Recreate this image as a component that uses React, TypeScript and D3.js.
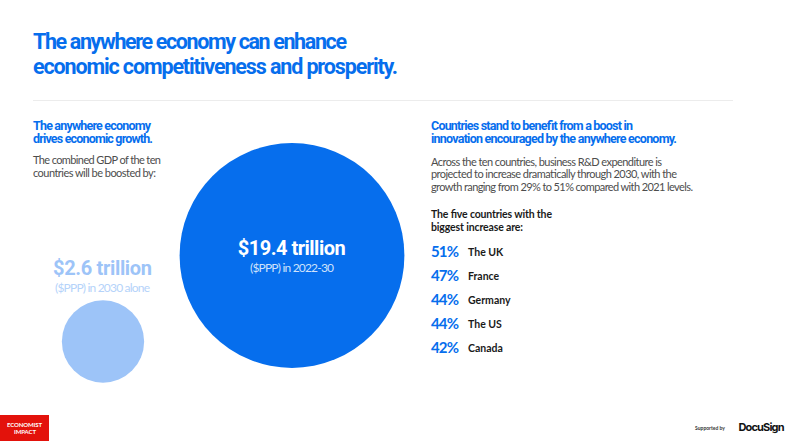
import { useEffect, useRef } from 'react';
import * as d3 from 'd3';

const width = 791;
const height = 445;

const gdpValues = [19.4, 2.6];
const gdpLabels = ['$19.4 trillion', '$2.6 trillion'];
const gdpNotes = ['($PPP) in 2022-30', '($PPP) in 2030 alone'];
const gdpColors = ['#066eed', '#9dc4f8'];

const countries = ['The UK', 'France', 'Germany', 'The US', 'Canada'];
const increases = [51, 47, 44, 44, 42];

const titleLines = ['The anywhere economy can enhance', 'economic competitiveness and prosperity.'];
const leftHead = ['The anywhere economy', 'drives economic growth.'];
const leftBody = ['The combined GDP of the ten', 'countries will be boosted by:'];
const rightHead = ['Countries stand to benefit from a boost in', 'innovation encouraged by the anywhere economy.'];
const rightBody = [
  'Across the ten countries, business R&D expenditure is',
  'projected to increase dramatically through 2030, with the',
  'growth ranging from 29% to 51% compared with 2021 levels.',
];
const listHead = ['The five countries with the', 'biggest increase are:'];

const BLUE = '#066eed';

const App = () => {
  const svgRef = useRef<SVGSVGElement>(null);

  useEffect(() => {
    if (!svgRef.current) return;
    const svg = d3.select(svgRef.current);
    svg.selectAll('*').remove();

    // helper for the blocks of text, fitted to the measured line widths
    const block = (
      lines: string[], x: number, y: number, lh: number, size: number,
      weight: number, fill: string, fit: number[], font = 'Lato',
    ) => {
      lines.forEach((t, i) => {
        svg.append('text')
          .attr('x', x)
          .attr('y', y + i * lh)
          .attr('font-family', font)
          .attr('font-size', size)
          .attr('font-weight', weight)
          .attr('textLength', fit[i])
          .attr('lengthAdjust', 'spacing')
          .attr('fill', fill)
          .text(t);
      });
    };

    block(titleLines, 33, 49, 25, 21.5, 700, BLUE, [314, 365], 'Roboto');

    svg.append('line')
      .attr('x1', 33).attr('x2', 733)
      .attr('y1', 100.5).attr('y2', 100.5)
      .attr('stroke', '#ececec')
      .attr('stroke-width', 1);

    block(leftHead, 33, 130, 12.7, 12.5, 700, BLUE, [118, 120], 'Roboto');
    block(leftBody, 33, 164, 12.7, 11, 400, '#4d4d4d', [128, 123]);

    // circles are sized by area
    const r = d3.scaleSqrt().domain([0, d3.max(gdpValues)!]).range([0, 112.4]);
    const cx = [292, 103];
    const cy = [255.5, 341.5];
    const labelY = [255, 275];
    const noteY = [272, 291.5];
    const labelW = [108, 99];
    const noteW = [84, 95];
    const labelFill = ['#ffffff', '#9dc4f8'];
    const noteFill = ['#cfe2fb', '#b5d3fa'];

    gdpValues.forEach((v, i) => {
      svg.append('circle')
        .attr('cx', cx[i])
        .attr('cy', cy[i])
        .attr('r', r(v))
        .attr('fill', gdpColors[i]);
      svg.append('text')
        .attr('x', i === 0 ? 291.7 : 102.5)
        .attr('y', labelY[i])
        .attr('text-anchor', 'middle')
        .attr('font-family', 'Roboto')
        .attr('font-size', 20)
        .attr('font-weight', 700)
        .attr('textLength', labelW[i])
        .attr('fill', labelFill[i])
        .text(gdpLabels[i]);
      svg.append('text')
        .attr('x', i === 0 ? 292 : 102.5)
        .attr('y', noteY[i])
        .attr('text-anchor', 'middle')
        .attr('font-family', 'Lato')
        .attr('font-size', 12)
        .attr('textLength', noteW[i])
        .attr('fill', noteFill[i])
        .text(gdpNotes[i]);
    });

    block(rightHead, 431, 130, 12.7, 12.5, 700, BLUE, [202, 246], 'Roboto');
    block(rightBody, 431, 166, 12.4, 11, 400, '#4d4d4d', [231, 246, 262]);
    block(listHead, 431, 218, 13, 10.5, 700, '#1a1a1a', [121, 92]);

    const y = d3.scalePoint<string>().domain(countries).range([257, 353]);
    countries.forEach((c, i) => {
      svg.append('text')
        .attr('x', 431)
        .attr('y', y(c)!)
        .attr('font-family', 'Lato')
        .attr('font-size', 15)
        .attr('font-weight', 700)
        .attr('textLength', 28)
        .attr('fill', BLUE)
        .text(`${increases[i]}%`);
      svg.append('text')
        .attr('x', 468)
        .attr('y', y(c)! - 1.5)
        .attr('font-family', 'Lato')
        .attr('font-size', 10.5)
        .attr('font-weight', 700)
        .attr('fill', '#1a1a1a')
        .text(c);
    });

    // footer
    svg.append('rect')
      .attr('x', 0).attr('y', 415)
      .attr('width', 49).attr('height', 26)
      .attr('fill', '#e3120b');
    block(['ECONOMIST'], 7, 427, 0, 6, 700, '#ffffff', [35]);
    block(['IMPACT'], 14, 434, 0, 6, 700, '#ffffff', [22]);
    block(['Supported by'], 695, 430, 0, 5, 700, '#333333', [30]);
    block(['DocuSign'], 738.5, 431, 0, 11, 700, '#111111', [46], 'Inter');
  }, []);

  return (
    <svg
      ref={svgRef}
      width={width}
      height={height}
      style={{ position: 'absolute', left: 0, top: 0, background: '#fff' }}
    />
  );
};

export default App;
